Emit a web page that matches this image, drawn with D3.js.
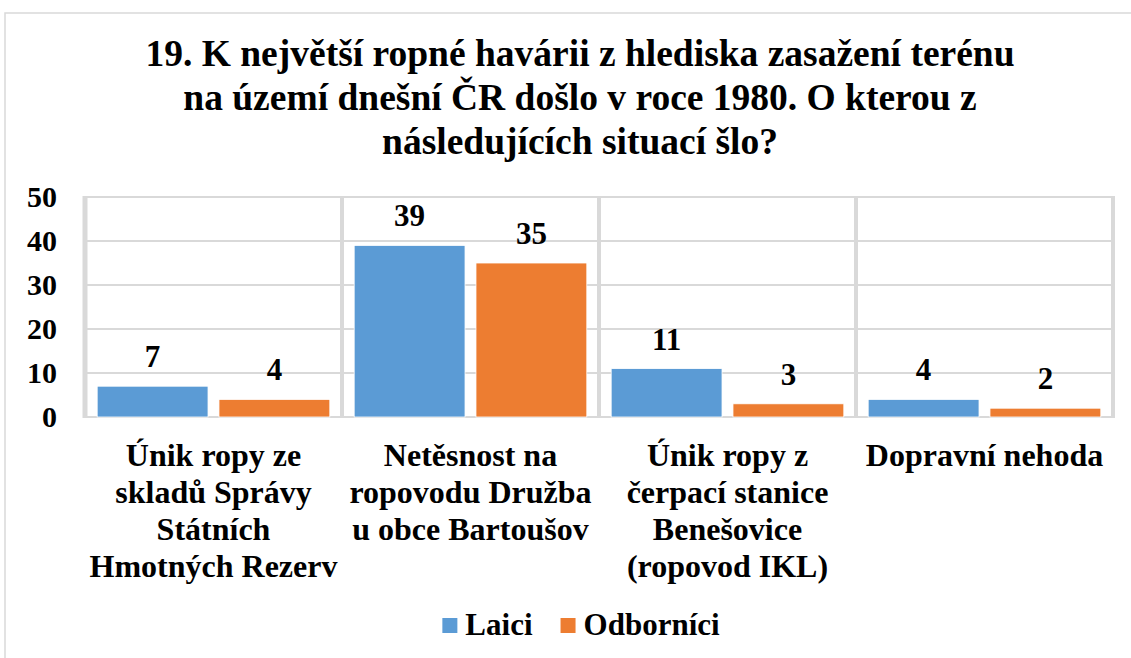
<!DOCTYPE html>
<html>
<head>
<meta charset="utf-8">
<script src="https://cdn.jsdelivr.net/npm/d3@7"></script>
<style>
  body { margin: 0; background: #fff; }
  svg text { font-family: "Liberation Serif", "Times New Roman", serif; font-weight: bold; fill: #000; }
</style>
</head>
<body>
<svg id="chart" width="1131" height="658"></svg>
<script>
// data
const titleLines = [
  '19. K největší ropné havárii z hlediska zasažení terénu',
  'na území dnešní ČR došlo v roce 1980. O kterou z',
  'následujících situací šlo?'
];
const categories = [
  ['Únik ropy ze', 'skladů Správy', 'Státních', 'Hmotných Rezerv'],
  ['Netěsnost na', 'ropovodu Družba', 'u obce Bartoušov'],
  ['Únik ropy z', 'čerpací stanice', 'Benešovice', '(ropovod IKL)'],
  ['Dopravní nehoda']
];
const seriesNames = ['Laici', 'Odborníci'];
const laici = [7, 39, 11, 4];
const odbornici = [4, 35, 3, 2];
const yTicks = [0, 10, 20, 30, 40, 50];
const colors = ['#5B9BD5', '#ED7D31'];

const svg = d3.select('#chart');
const plotL = 85, plotR = 1113, plotT = 197, plotB = 417;

// chart border
svg.append('rect').attr('x', 5).attr('y', 13).attr('width', 1140).attr('height', 660)
  .attr('fill', 'none').attr('stroke', '#d9d9d9').attr('stroke-width', 1.5);

const catKeys = categories.map((c, i) => i);
const x0 = d3.scaleBand().domain(catKeys).range([plotL, plotR]);
const x1 = d3.scaleBand().domain(seriesNames).range([0, x0.bandwidth()]).paddingInner(0.09).paddingOuter(0.1);
const y = d3.scaleLinear().domain([0, 50]).range([plotB, plotT]);

// title
const title = svg.append('g');
titleLines.forEach((t, i) => {
  title.append('text').attr('x', 580).attr('y', 66 + i * 44)
    .attr('text-anchor', 'middle').style('font-size', '37.5px').text(t);
});

// horizontal grid
svg.append('g').selectAll('line').data(yTicks).enter().append('line')
  .attr('x1', plotL).attr('x2', plotR).attr('y1', d => y(d)).attr('y2', d => y(d))
  .attr('stroke', '#d9d9d9').attr('stroke-width', 2);

// vertical category separators
const seps = catKeys.map(k => x0(k)).concat([plotR]);
svg.append('g').selectAll('line').data(seps).enter().append('line')
  .attr('x1', d => d).attr('x2', d => d).attr('y1', plotT - 1).attr('y2', plotB + 1)
  .attr('stroke', '#d9d9d9').attr('stroke-width', (d, i) => i === 0 ? 5 : 4);

// y tick labels
svg.append('g').selectAll('text').data(yTicks).enter().append('text')
  .attr('x', 57).attr('y', d => y(d) + 10)
  .attr('text-anchor', 'end').style('font-size', '30px').text(d => d);

// bars
const rows = catKeys.map(k => [
  { cat: k, s: seriesNames[0], v: laici[k], c: colors[0] },
  { cat: k, s: seriesNames[1], v: odbornici[k], c: colors[1] }
]).flat();

svg.append('g').selectAll('rect').data(rows).enter().append('rect')
  .attr('x', d => x0(d.cat) + x1(d.s))
  .attr('y', d => y(d.v))
  .attr('width', x1.bandwidth())
  .attr('height', d => plotB - y(d.v))
  .attr('fill', d => d.c)
  .attr('stroke', '#fff').attr('stroke-width', 0.8);

// value labels
svg.append('g').selectAll('text').data(rows).enter().append('text')
  .attr('x', d => x0(d.cat) + x1(d.s) + x1.bandwidth() / 2)
  .attr('y', d => y(d.v) - 19)
  .attr('text-anchor', 'middle').style('font-size', '31px').text(d => d.v);

// category labels
const xl = svg.append('g');
categories.forEach((lines, k) => {
  lines.forEach((ln, j) => {
    xl.append('text')
      .attr('x', x0(k) + x0.bandwidth() / 2).attr('y', 466 + j * 37)
      .attr('text-anchor', 'middle').style('font-size', '32px').text(ln);
  });
});

// legend
const lg = svg.append('g');
let lx = 0;
seriesNames.forEach((n, i) => {
  const g = lg.append('g').attr('transform', `translate(${lx},0)`);
  g.append('rect').attr('x', 0).attr('y', -17).attr('width', 15).attr('height', 15).attr('fill', colors[i]);
  const t = g.append('text').attr('x', 23).attr('y', 0).style('font-size', '31px').text(n);
  const w = t.node().getComputedTextLength();
  lx += 23 + w + 28;
});
const legW = lx - 28;
lg.attr('transform', `translate(${581 - legW / 2},635)`);
</script>
</body>
</html>
